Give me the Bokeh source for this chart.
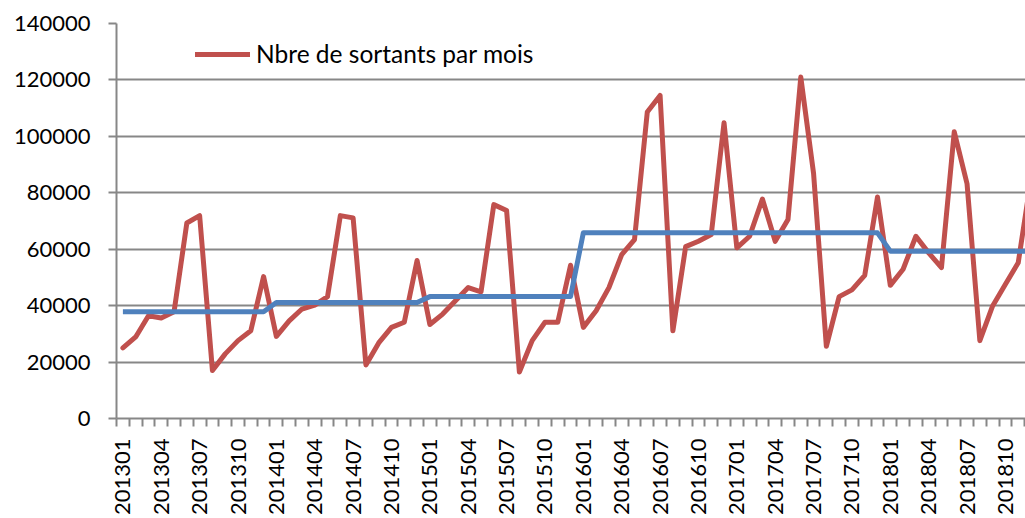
from bokeh.plotting import figure
from bokeh.models import (Range1d, FixedTicker, NumeralTickFormatter, Legend, LegendItem,
                          ColumnDataSource)
from bokeh.embed import file_html
from bokeh.resources import INLINE
import math

# ---- data ----
months = [f"{y}{m:02d}" for y in range(2013, 2019) for m in range(1, 13)]

sortants_2013 = [25000, 28900, 36400, 35600, 37800, 69300, 71900, 17000, 22900, 27600, 31100, 50300]
sortants_2014 = [29100, 34600, 38800, 40200, 43200, 71900, 71100, 19000, 26800, 32300, 34100, 56000]
sortants_2015 = [33300, 37000, 41700, 46400, 44900, 75800, 73700, 16500, 27600, 34100, 34100, 54300]
sortants_2016 = [32300, 38200, 46400, 58100, 63400, 108600, 114500, 31100, 60900, 62800, 65200, 104800]
sortants_2017 = [60500, 64600, 77800, 62800, 70500, 121000, 86900, 25600, 43200, 45600, 50700, 78500]
sortants_2018 = [47200, 52900, 64600, 58700, 53500, 101600, 83200, 27600, 39900, 47600, 55200, 85000]
sortants = (sortants_2013 + sortants_2014 + sortants_2015 +
            sortants_2016 + sortants_2017 + sortants_2018)

moyenne_annuelle = [37800, 41100, 43200, 65800, 65800, 59300]  # one level per year
moyenne = [v for v in moyenne_annuelle for _ in range(12)]

y_ticks = [0, 20000, 40000, 60000, 80000, 100000, 120000, 140000]

# ---- figure ----
FONT = "Lato"
GRAY = "#878787"

x = list(range(len(months)))
src = ColumnDataSource(dict(x=x, sortants=sortants, moyenne=moyenne))

p = figure(width=1025, height=518, output_backend="svg", toolbar_location=None,
           x_range=Range1d(-0.5, 70.57), y_range=Range1d(0, 140000),
           min_border_left=116, min_border_right=0, min_border_top=23, min_border_bottom=98)
p.outline_line_color = None
p.background_fill_color = "white"
p.border_fill_color = "white"

red = p.line("x", "sortants", source=src, line_color="#C0504D", line_width=5,
             line_join="round", line_cap="round")
blue = p.line("x", "moyenne", source=src, line_color="#4F81BD", line_width=5,
              line_join="round", line_cap="butt")

# x axis: labels every 3 months, tick marks between every category
label_idx = list(range(0, len(months), 3))
xa = p.xaxis[0]
xa.ticker = FixedTicker(ticks=label_idx,
                        minor_ticks=[i - 0.5 for i in range(len(months) + 1)])
xa.major_label_overrides = {i: months[i] for i in label_idx}
xa.major_label_orientation = math.pi / 2
xa.major_tick_line_color = None
xa.major_tick_out = 8
xa.major_tick_in = 0
xa.minor_tick_out = 8
xa.minor_tick_in = 0
xa.minor_tick_line_color = GRAY
xa.minor_tick_line_width = 2
xa.major_label_standoff = 12
xa.axis_line_color = GRAY
xa.axis_line_width = 2
xa.major_label_text_font = FONT
xa.major_label_text_font_size = "22px"
xa.major_label_text_color = "black"

ya = p.yaxis[0]
ya.ticker = FixedTicker(ticks=y_ticks)
ya.formatter = NumeralTickFormatter(format="0")
ya.major_tick_out = 8
ya.major_tick_in = 0
ya.minor_tick_line_color = None
ya.major_tick_line_color = GRAY
ya.major_tick_line_width = 2
ya.axis_line_color = GRAY
ya.axis_line_width = 2
ya.major_label_standoff = 18
ya.major_label_text_font = FONT
ya.major_label_text_font_size = "22px"
ya.major_label_text_color = "black"

p.xgrid.grid_line_color = None
p.ygrid.ticker = FixedTicker(ticks=y_ticks)
p.ygrid.grid_line_color = GRAY
p.ygrid.grid_line_width = 2

legend = Legend(items=[LegendItem(label="Nbre de sortants par mois", renderers=[red])],
                location=(79, 350), padding=0, margin=0, spacing=0,
                border_line_color=None, background_fill_alpha=0,
                glyph_width=55, glyph_height=26, label_height=26, label_standoff=6,
                label_text_font=FONT, label_text_font_size="24.5px", label_text_color="black")
p.add_layout(legend)

open("out.html", "w").write(file_html(p, INLINE))
